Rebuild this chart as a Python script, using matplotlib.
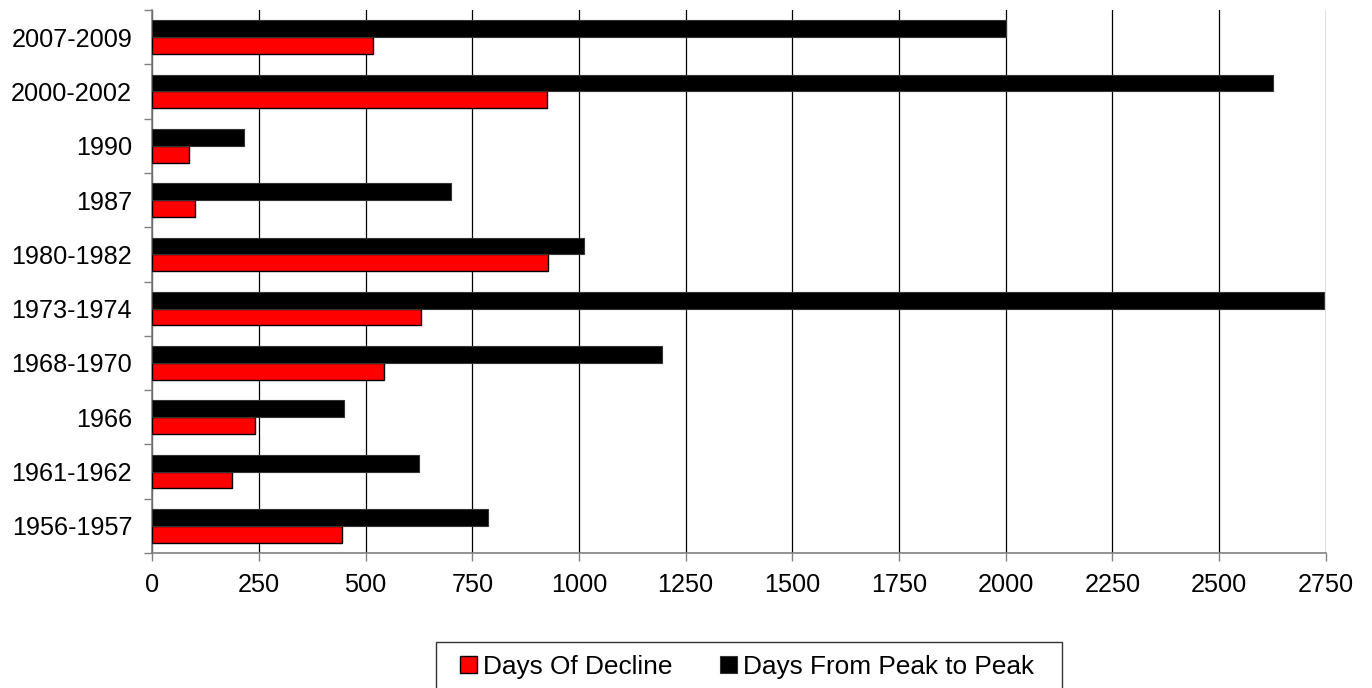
import matplotlib
matplotlib.use('Agg')
import matplotlib.pyplot as plt
from matplotlib.patches import Rectangle
import numpy as np

plt.rcParams['font.family'] = ['Liberation Sans', 'DejaVu Sans']

# data, bottom to top
periods = ['1956-1957', '1961-1962', '1966', '1968-1970', '1973-1974',
           '1980-1982', '1987', '1990', '2000-2002', '2007-2009']
days_decline = [445, 186, 240, 543, 630, 927, 100, 87, 925, 518]
days_peak_to_peak = [786, 624, 450, 1194, 2746, 1011, 701, 214, 2626, 2000]
xticks = [0, 250, 500, 750, 1000, 1250, 1500, 1750, 2000, 2250, 2500, 2750]

W, H = 1372, 688
fs = 18.2
fig = plt.figure(figsize=(W / 100, H / 100), dpi=100)
ax = fig.add_axes([152.3 / W, 1 - 553 / H, (1325.7 - 152.3) / W, (553 - 10) / H])

y = np.arange(len(periods))
h = 0.31
ax.barh(y - h / 2, days_decline, height=h, color='#ff0000', edgecolor='black',
        linewidth=1.0, label='Days Of Decline', zorder=3)
ax.barh(y + h / 2, days_peak_to_peak, height=h, color='black', edgecolor='#333333',
        linewidth=0.8, label='Days From Peak to Peak', zorder=3)

ax.set_xlim(0, 2750)
ax.set_ylim(-0.5, len(periods) - 0.5)
ax.set_xticks(xticks)
ax.set_xticklabels([str(v) for v in xticks], fontsize=fs)
ax.grid(axis='x', color='black', linewidth=0.9, zorder=0)
ax.set_axisbelow(True)

# y ticks at category boundaries, labels at centres
ax.set_yticks(np.arange(-0.5, len(periods), 1.0))
ax.set_yticklabels([])
ax.set_yticks(y, minor=True)
ax.set_yticklabels(periods, minor=True, fontsize=fs)
ax.tick_params(axis='y', which='minor', length=0, pad=14.5)
ax.tick_params(axis='y', which='major', length=6, width=1, color='#808080', direction='out')
ax.tick_params(axis='x', length=6, width=1, color='#808080', direction='out', pad=8.5)

for s in ['top', 'right']:
    ax.spines[s].set_visible(False)
for s in ['left', 'bottom']:
    ax.spines[s].set_color('#808080')
    ax.spines[s].set_linewidth(1.2)

# legend box (runs off the bottom edge like the original)
fig.patches.append(Rectangle((435.7 / W, -0.05), (1062.3 - 435.7) / W, 0.05 + (H - 642) / H,
                             transform=fig.transFigure, facecolor='white',
                             edgecolor='#333333', linewidth=1.0, zorder=0))
leg = fig.legend(loc='upper left', bbox_to_anchor=(460 / W, 1 - 655 / H),
                 ncol=2, fontsize=18.9, frameon=False,
                 handlelength=0.63, handleheight=0.63,
                 handletextpad=0.23, columnspacing=1.84, borderpad=0, borderaxespad=0)

fig.savefig('out.png', dpi=100)
